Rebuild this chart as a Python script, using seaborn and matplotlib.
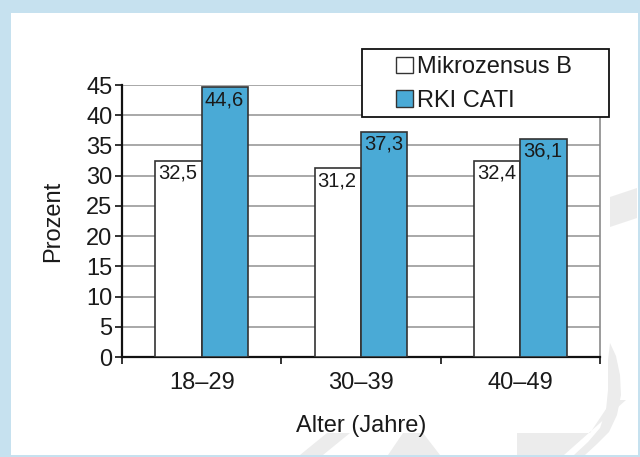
import matplotlib
matplotlib.use("Agg")
import matplotlib.pyplot as plt
from matplotlib.patches import Rectangle, Polygon
from matplotlib.ticker import FixedLocator, MultipleLocator
import seaborn as sns
import pandas as pd

# --- data -----------------------------------------------------------------
age_groups = ["18–29", "30–39", "40–49"]
series_names = ["Mikrozensus B", "RKI CATI"]
mikrozensus = [32.5, 31.2, 32.4]
rki_cati = [44.6, 37.3, 36.1]
y_ticks = [0, 5, 10, 15, 20, 25, 30, 35, 40, 45]

df = pd.DataFrame({
    "Alter": age_groups * 2,
    "Quelle": [series_names[0]] * 3 + [series_names[1]] * 3,
    "Prozent": mikrozensus + rki_cati,
})

# --- style ----------------------------------------------------------------
sns.set_theme(style="white")
plt.rcParams["font.family"] = ["Liberation Sans", "DejaVu Sans"]

BLUE = "#4aaad6"
EDGE = "#333333"
TEXT = "#1a1a1a"
W, H = 640, 457

fig = plt.figure(figsize=(W / 100, H / 100), dpi=100)
fig.patch.set_facecolor("#c6e1ef")


def px(x, y):
    return (x / W, 1 - y / H)


# white page inside the light blue frame
x0, y0 = px(11, 455)
x1, y1 = px(638, 13)
fig.patches.append(Rectangle((x0, y0), x1 - x0, y1 - y0, transform=fig.transFigure,
                             facecolor="white", edgecolor="none", zorder=-3))

# faint background logo shapes
logo_shapes = [
    [(300, 455), (327, 433), (350, 433), (323, 455)],
    [(388, 455), (403, 433), (423, 433), (440, 455)],
    [(517, 455), (517, 433), (590, 433), (612, 400), (626, 400), (564, 455)],
    [(610, 197), (637, 188), (637, 218), (610, 227)],
    [(610, 343), (616, 356), (620, 375), (621, 395), (617, 415), (609, 432),
     (597, 444), (585, 455), (574, 455), (588, 442), (600, 428), (606, 410), (608, 390),
     (608, 360)],
]
for shp in logo_shapes:
    fig.patches.append(Polygon([px(*p) for p in shp], closed=True, transform=fig.transFigure,
                               facecolor="#ececec", edgecolor="none", zorder=-2))

ax_l, ax_b = px(122, 357)
ax_r, ax_t = px(600, 85)
ax = fig.add_axes([ax_l, ax_b, ax_r - ax_l, ax_t - ax_b])
ax.set_facecolor("white")

sns.barplot(data=df, x="Alter", y="Prozent", hue="Quelle", hue_order=series_names,
            palette=["white", BLUE], width=0.58, gap=0, edgecolor=EDGE, linewidth=1.2,
            saturation=1, ax=ax, legend=True, zorder=3)

ax.set_ylim(0, 45)
ax.set_xlim(-0.5, 2.5)
ax.yaxis.set_major_locator(FixedLocator(y_ticks))
ax.grid(axis="y", color="#9a9a9a", linewidth=1.2, zorder=0)
ax.set_axisbelow(True)

for side in ["left", "bottom"]:
    ax.spines[side].set_color("#111111")
    ax.spines[side].set_linewidth(1.6)
ax.spines["right"].set_color("#8a8a8a")
ax.spines["right"].set_linewidth(1.2)
ax.spines["top"].set_visible(False)

ax.tick_params(axis="y", which="major", direction="out", length=5, width=1.2,
               color="#111111", labelsize=17, pad=2, left=True, labelcolor=TEXT)
ax.tick_params(axis="x", which="major", length=0, labelsize=17, pad=11, labelcolor=TEXT)
ax.xaxis.set_minor_locator(MultipleLocator(1, offset=0.5))
ax.tick_params(axis="x", which="minor", direction="out", length=5, width=1.2,
               color="#111111", bottom=True)

ax.set_xlabel("Alter (Jahre)", fontsize=17, labelpad=15, color=TEXT)
ax.set_ylabel("Prozent", fontsize=17, labelpad=16, color=TEXT)

# value labels in the top-left corner of each bar
for cont in ax.containers:
    for bar in cont:
        val = bar.get_height()
        ax.annotate(f"{val:.1f}".replace(".", ","), xy=(bar.get_x(), val),
                    xytext=(2, -2), textcoords="offset points", ha="left", va="top",
                    fontsize=14.5, color=TEXT, zorder=5)

# legend: frameless entries inside a drawn box
handles, labels = ax.get_legend_handles_labels()
ax.get_legend().remove()
lx0, ly0 = px(362, 117)
lx1, ly1 = px(609, 49)
fig.patches.append(Rectangle((lx0, ly0), lx1 - lx0, ly1 - ly0, transform=fig.transFigure,
                             facecolor="white", edgecolor="#111111", linewidth=1.3, zorder=4))
leg = fig.legend(handles, labels, loc="center left", bbox_to_anchor=px(396, 84),
                 frameon=False, fontsize=17, handlelength=0.7, handleheight=0.7,
                 handletextpad=0.2, labelspacing=0.5, borderpad=0, borderaxespad=0,
                 labelcolor=TEXT)
leg.set_zorder(6)
for h in leg.legend_handles:
    h.set_edgecolor(EDGE)
    h.set_linewidth(1.0)

fig.savefig("out.png", dpi=100, facecolor=fig.get_facecolor())
